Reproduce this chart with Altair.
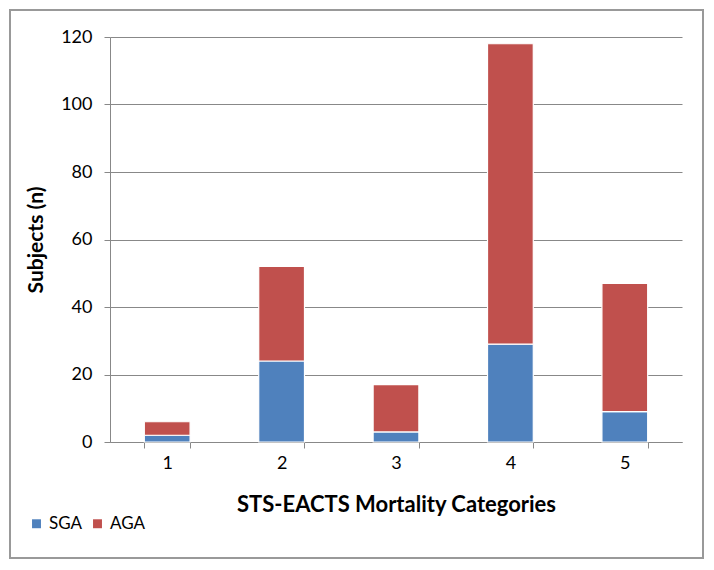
import altair as alt
import pandas as pd

categories = ["1", "2", "3", "4", "5"]
sga = [2, 24, 3, 29, 9]
aga = [4, 28, 14, 89, 38]
series = ["SGA", "AGA"]
colors = ["#4F81BD", "#C0504D"]

rows = []
for c, s, a in zip(categories, sga, aga):
    rows.append({"cat": c, "group": "SGA", "n": s, "ord": 0})
    rows.append({"cat": c, "group": "AGA", "n": a, "ord": 1})
df = pd.DataFrame(rows)

FONT = "Lato"

bars = alt.Chart(df).mark_bar(stroke="white", strokeWidth=1.2).encode(
    x=alt.X("cat:N", sort=categories, scale=alt.Scale(paddingInner=0.6, paddingOuter=0.3),
            axis=alt.Axis(title="STS-EACTS Mortality Categories", labelAngle=0, tickBand="extent",
                          labelFontSize=18, titleFontSize=22, titleFontWeight="bold",
                          labelPadding=6, titlePadding=22, domain=True, domainColor="#888888",
                          tickColor="#888888", tickSize=6, labelColor="#000000",
                          titleColor="#000000")),
    y=alt.Y("n:Q", stack="zero", scale=alt.Scale(domain=[0, 120]),
            axis=alt.Axis(title="Subjects (n)", values=[0, 20, 40, 60, 80, 100, 120],
                          labelFontSize=18, titleFontSize=21, titleFontWeight="bold",
                          labelPadding=12, titlePadding=14, domain=True, domainColor="#888888",
                          tickColor="#888888", tickSize=6, gridColor="#888888",
                          labelColor="#000000", titleColor="#000000")),
    color=alt.Color("group:N", sort=series, scale=alt.Scale(domain=series, range=colors),
                    legend=alt.Legend(title=None, orient="none", legendX=-82, legendY=478,
                                      direction="horizontal", symbolType="square",
                                      symbolSize=80, labelFontSize=17, symbolStrokeWidth=0,
                                      columnPadding=6, labelOffset=4, labelColor="#000000")),
    order=alt.Order("ord:Q"),
)

frame = alt.Chart(df).mark_rect(fill=None, stroke="#999999", strokeWidth=1.5, clip=False).encode(
    x=alt.value(-100), x2=alt.value(593), y=alt.value(-27), y2=alt.value(521)
)

chart = alt.layer(bars, frame).properties(
    width=572, height=405,
    padding={"left": 102, "top": 29, "right": 24, "bottom": 126},
    autosize=alt.AutoSizeParams(type="none"),
).configure(font=FONT).configure_view(stroke=None)

chart.save("out.html", embed_options={"renderer": "svg", "actions": False})
